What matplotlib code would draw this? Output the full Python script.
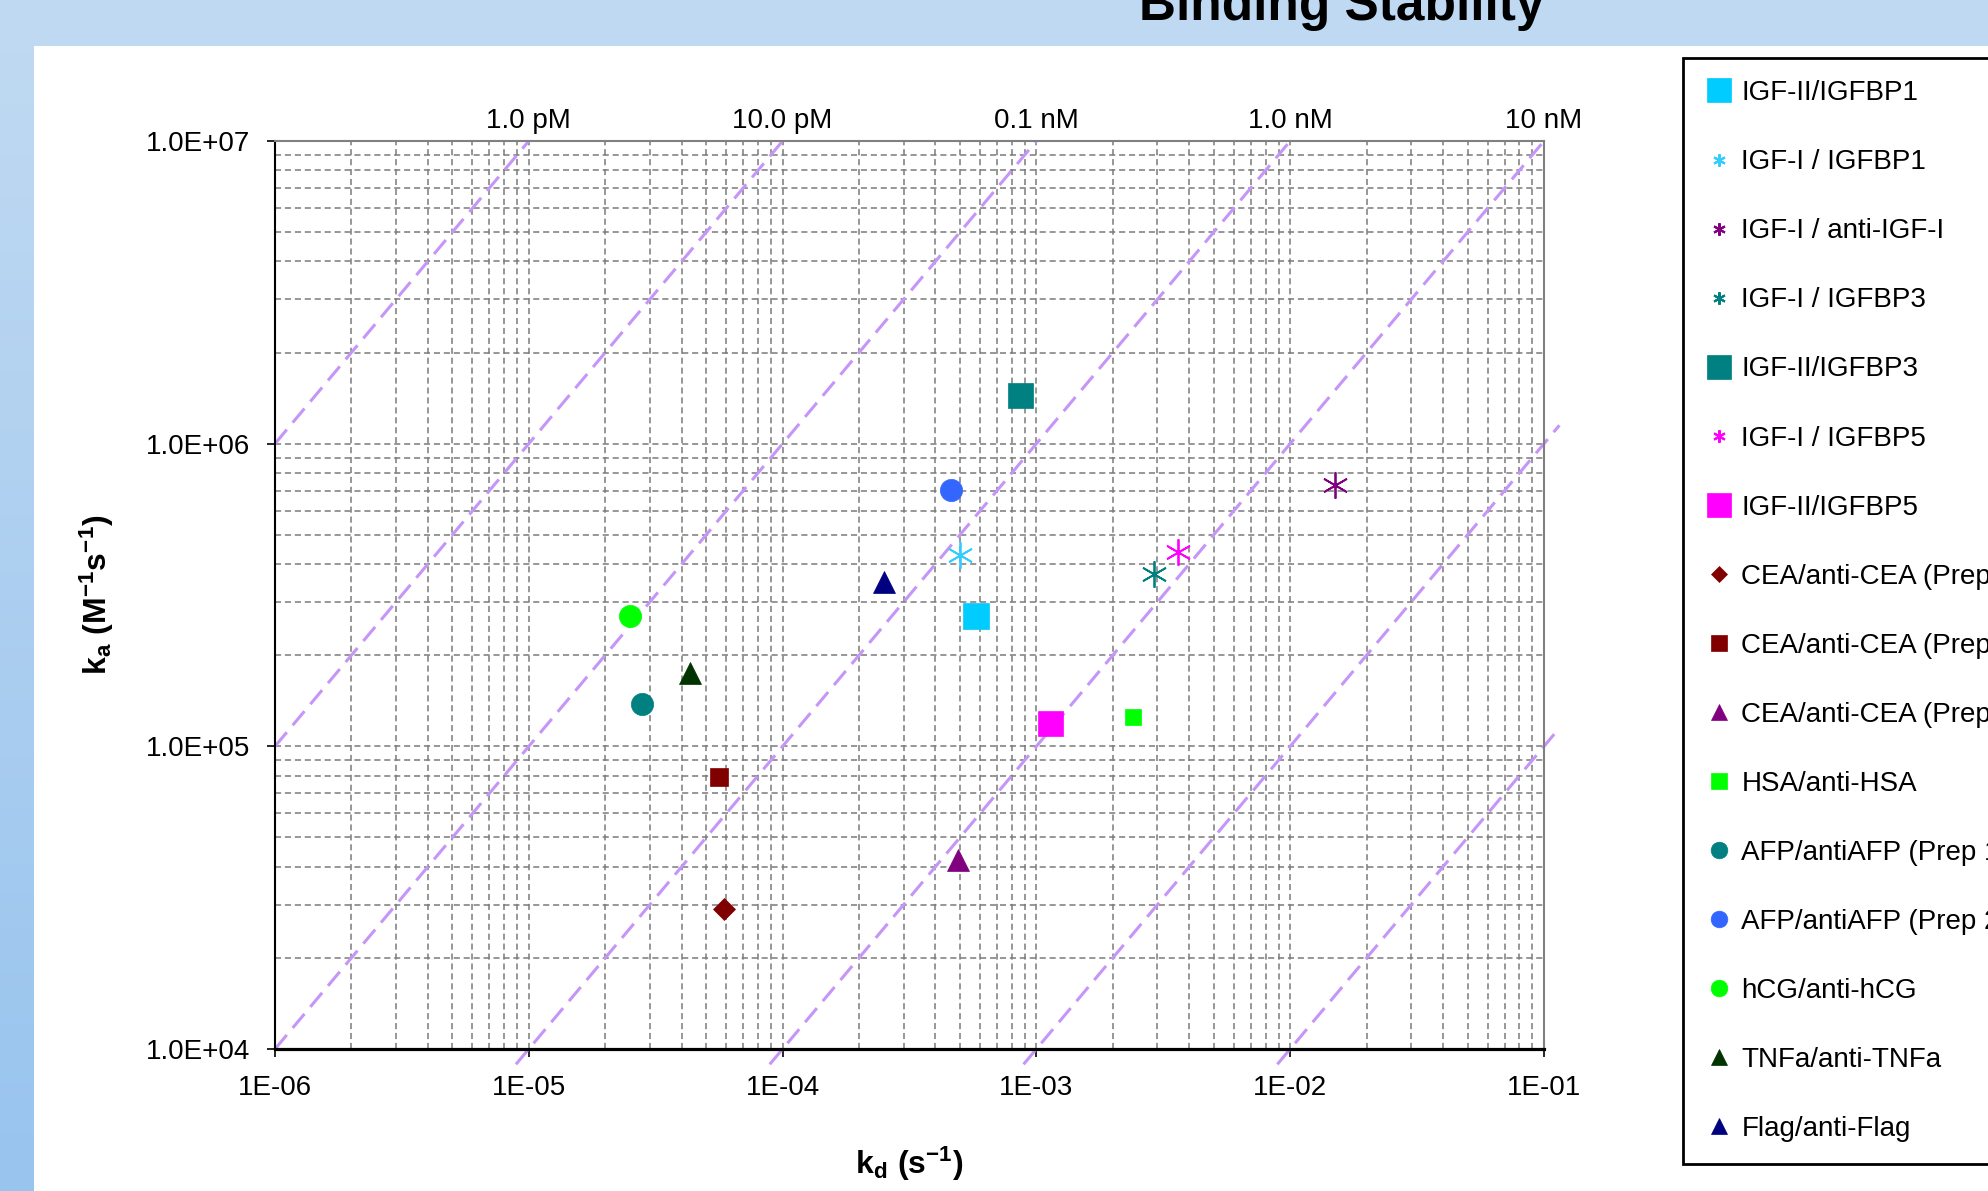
import numpy as np
import matplotlib.pyplot as plt
from matplotlib.lines import Line2D
from matplotlib.patches import Rectangle
from matplotlib.ticker import FixedLocator, FixedFormatter, LogLocator, NullFormatter
import matplotlib.transforms as mtransforms

plt.rcParams['font.family'] = ['Liberation Sans', 'DejaVu Sans']
plt.rcParams['mathtext.fontset'] = 'custom'
plt.rcParams['mathtext.rm'] = 'Liberation Sans:bold'
plt.rcParams['mathtext.it'] = 'Liberation Sans:bold'
plt.rcParams['mathtext.bf'] = 'Liberation Sans:bold'

# data
labels = ['IGF-II/IGFBP1', 'IGF-I / IGFBP1', 'IGF-I / anti-IGF-I', 'IGF-I / IGFBP3',
          'IGF-II/IGFBP3', 'IGF-I / IGFBP5', 'IGF-II/IGFBP5',
          'CEA/anti-CEA (Prep 1)', 'CEA/anti-CEA (Prep 2)', 'CEA/anti-CEA (Prep 3)',
          'HSA/anti-HSA', 'AFP/antiAFP (Prep 1)', 'AFP/antiAFP (Prep 2)',
          'hCG/anti-hCG', 'TNFa/anti-TNFa', 'Flag/anti-Flag']
kd = [5.8e-4, 5.0e-4, 1.5e-2, 2.9e-3, 8.6e-4, 3.6e-3, 1.13e-3,
      5.9e-5, 5.6e-5, 4.9e-4, 2.4e-3, 2.8e-5, 4.6e-4, 2.5e-5, 4.3e-5, 2.5e-4]
ka = [2.7e5, 4.3e5, 7.3e5, 3.7e5, 1.45e6, 4.4e5, 1.19e5,
      2.9e4, 7.9e4, 4.2e4, 1.25e5, 1.38e5, 7.05e5, 2.7e5, 1.75e5, 3.5e5]

colors = ['#00CCFF', '#33CCFF', '#800080', '#008080', '#008080', '#FF00FF', '#FF00FF',
          '#800000', '#800000', '#800080', '#00FF00', '#008080', '#3366FF',
          '#00FF00', '#003300', '#000080']
ast = (6, 2, 0)
markers = ['s', ast, ast, ast, 's', ast, 's', 'D', 's', '^', 's', 'o', 'o', 'o', '^', '^']
sizes = [19, 19, 19, 19, 18, 19, 18, 11, 13, 16, 12, 16, 16, 16, 16, 16]
leg_sizes = [17, 9, 9, 9, 17, 9, 17, 8, 11, 12, 11, 12, 12, 12, 12, 12]

kd_ticks = [1e-6, 1e-5, 1e-4, 1e-3, 1e-2, 1e-1]
kd_tick_labels = ['1E-06', '1E-05', '1E-04', '1E-03', '1E-02', '1E-01']
ka_ticks = [1e4, 1e5, 1e6, 1e7]
ka_tick_labels = ['1.0E+04', '1.0E+05', '1.0E+06', '1.0E+07']

# iso-affinity lines KD = kd / ka
KD_lines = [1e-12, 1e-11, 1e-10, 1e-9, 1e-8, 1e-7, 1e-6]
KD_top = [1e-12, 1e-11, 1e-10, 1e-9, 1e-8]
KD_top_labels = ['1.0 pM', '10.0 pM', '0.1 nM', '1.0 nM', '10 nM']

W, H = 1988, 1191
fig = plt.figure(figsize=(W / 100, H / 100), dpi=100)
fig.patch.set_facecolor('white')

# blue frame like the slide background
bg = fig.add_axes([0, 0, 1, 1], zorder=-10)
bg.axis('off')
bg.add_patch(Rectangle((0, 0), W, 46, color='#BFD9F2', lw=0))
grad = np.linspace(0, 1, 200)[:, None]
top_c = np.array([191, 217, 242]) / 255
bot_c = np.array([152, 196, 238]) / 255
img = top_c[None, None, :] * (1 - grad[:, :, None]) + bot_c[None, None, :] * grad[:, :, None]
bg.imshow(img, extent=(0, 34, H, 46), aspect='auto')
bg.set_xlim(0, W)
bg.set_ylim(H, 0)

fig.text(1342 / W, 1 - 20 / H, 'Binding Stability', ha='center', va='baseline',
         fontsize=37, fontweight='bold')

ax = fig.add_axes([275 / W, 1 - 1049 / H, 1269 / W, 908 / H])
ax.set_xscale('log')
ax.set_yscale('log')
ax.set_xlim(1e-6, 1e-1)
ax.set_ylim(1e4, 1e7)

ax.xaxis.set_major_locator(FixedLocator(kd_ticks))
ax.xaxis.set_major_formatter(FixedFormatter(kd_tick_labels))
ax.yaxis.set_major_locator(FixedLocator(ka_ticks))
ax.yaxis.set_major_formatter(FixedFormatter(ka_tick_labels))
ax.xaxis.set_minor_locator(LogLocator(base=10, subs=np.arange(2, 10)))
ax.yaxis.set_minor_locator(LogLocator(base=10, subs=np.arange(2, 10)))
ax.xaxis.set_minor_formatter(NullFormatter())
ax.yaxis.set_minor_formatter(NullFormatter())

ax.grid(which='both', color='#7a7a7a', linestyle=(0, (4, 2.5)), linewidth=1.1)
ax.set_axisbelow(True)
ax.tick_params(which='major', length=6, width=1.2, direction='out', labelsize=20)
ax.tick_params(axis='x', which='major', pad=13)
ax.tick_params(axis='y', which='major', pad=12)
ax.tick_params(which='minor', length=0)

ax.spines['bottom'].set_linewidth(2.3)
ax.spines['left'].set_linewidth(1.5)
for s in ['top', 'right']:
    ax.spines[s].set_color('#808080')
    ax.spines[s].set_linewidth(1.5)

for K in KD_lines:
    lo = max(1e-6, K * 0.89e4)
    hi = min(1.15e-1, K * 1e7)
    ax.plot([lo, hi], [lo / K, hi / K], color='#C596F7', lw=2.2,
            linestyle=(0, (6, 3)), clip_on=False, zorder=2)

trans = mtransforms.blended_transform_factory(ax.transData, ax.transAxes)
for K, lab in zip(KD_top, KD_top_labels):
    ax.annotate(lab, xy=(K * 1e7, 1.0), xycoords=trans, xytext=(0, 9.5),
                textcoords='offset points', ha='center', va='baseline', fontsize=20)

handles = []
for x, y, c, m, s, ls in zip(kd, ka, colors, markers, sizes, leg_sizes):
    if m == ast:
        ax.plot([x], [y], linestyle='none', marker=m, ms=s, mec=c, mew=1.3, zorder=5)
        handles.append(Line2D([], [], linestyle='none', marker=m, ms=ls, mec=c, mew=1.5))
    else:
        ax.plot([x], [y], linestyle='none', marker=m, ms=s, mfc=c, mec=c, mew=0.5, zorder=5)
        handles.append(Line2D([], [], linestyle='none', marker=m, ms=ls, mfc=c, mec=c, mew=0.5))

ax.set_xlabel(r'$\mathrm{k_d\ (s^{-1})}$', fontsize=23)
ax.set_ylabel(r'$\mathrm{k_a\ (M^{-1}s^{-1})}$', fontsize=23)
ax.xaxis.label.set_va('center')
ax.yaxis.label.set_va('center')
ax.xaxis.set_label_coords(0.5, (1049 - 1164) / 908)
ax.yaxis.set_label_coords((97 - 275) / 1269, 0.5)

leg = fig.legend(handles, labels, loc='upper left',
                 bbox_to_anchor=(1683 / W, 1 - 58 / H), bbox_transform=fig.transFigure,
                 fontsize=20, frameon=True, fancybox=False, edgecolor='black',
                 framealpha=1, borderpad=0.8, labelspacing=1.55, handlelength=1.0,
                 handletextpad=0.3, borderaxespad=0)
leg.get_frame().set_linewidth(2)

fig.savefig('out.png', dpi=100)
